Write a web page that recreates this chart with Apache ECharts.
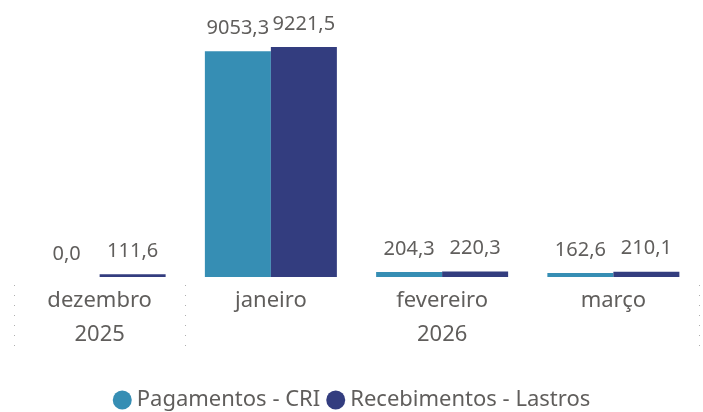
<!DOCTYPE html>
<html>
<head>
<meta charset="utf-8">
<script src="https://cdn.jsdelivr.net/npm/echarts@6/dist/echarts.min.js"></script>
<style>
  html, body { margin: 0; padding: 0; background: #fff; }
  #main { width: 703px; height: 412px; }
</style>
</head>
<body>
<div id="main"></div>
<script>
var months = ['dezembro', 'janeiro', 'fevereiro', 'março'];
var years = ['2025', '2026', '2026', '2026'];
var pagamentos = [0.0, 9053.3, 204.3, 162.6];
var recebimentos = [111.6, 9221.5, 220.3, 210.1];

var myChart = echarts.init(document.getElementById('main'));
var font = 'Noto Sans';
var textColor = '#605E5C';

function fmt(p) {
    return p.value.toFixed(1).replace('.', ',');
}

// limites e centros dos grupos de ano (em unidades de categoria)
var yearBounds = [0];
var yearCenters = [];
var start = 0;
for (var i = 1; i <= years.length; i++) {
    if (i === years.length || years[i] !== years[i - 1]) {
        yearBounds.push(i);
        yearCenters.push((start + i) / 2);
        start = i;
    }
}

option = {
    textStyle: { fontFamily: font },
    legend: {
        bottom: -4,
        left: 'center',
        icon: 'circle',
        itemWidth: 19,
        itemHeight: 19,
        itemGap: 6,
        textStyle: { fontSize: 22, color: textColor, fontFamily: font },
        data: ['Pagamentos - CRI', 'Recebimentos - Lastros']
    },
    grid: {
        left: 14,
        right: 4,
        top: 45,
        bottom: 135
    },
    xAxis: [{
        type: 'category',
        data: months,
        axisLine: { show: false },
        axisTick: { show: false },
        axisLabel: {
            margin: 13,
            fontSize: 22,
            color: textColor,
            fontFamily: font
        }
    }, {
        // anos + separadores pontilhados
        type: 'value',
        min: 0,
        max: months.length,
        position: 'bottom',
        offset: 8,
        splitLine: { show: false },
        axisLine: { show: false },
        axisTick: {
            show: true,
            length: 70,
            customValues: yearBounds,
            lineStyle: { color: '#AFAFAF', type: [1, 9], width: 1 }
        },
        axisLabel: {
            show: true,
            margin: 39,
            fontSize: 22,
            color: textColor,
            fontFamily: font,
            customValues: yearCenters,
            formatter: function (v) {
                return years[Math.floor(v)];
            }
        }
    }],
    yAxis: {
        type: 'value',
        show: false,
        min: 0,
        max: 9300
    },
    series: [{
        name: 'Pagamentos - CRI',
        type: 'bar',
        barWidth: 66,
        barGap: 0,
        itemStyle: { color: '#368EB4' },
        label: {
            show: true,
            position: 'top',
            distance: 13,
            fontSize: 20,
            color: textColor,
            fontFamily: font,
            formatter: fmt
        },
        data: pagamentos
    }, {
        name: 'Recebimentos - Lastros',
        type: 'bar',
        barWidth: 66,
        barGap: 0,
        itemStyle: { color: '#333D7F' },
        label: {
            show: true,
            position: 'top',
            distance: 13,
            fontSize: 20,
            color: textColor,
            fontFamily: font,
            formatter: fmt
        },
        data: recebimentos
    }]
};

myChart.setOption(option);
</script>
</body>
</html>
